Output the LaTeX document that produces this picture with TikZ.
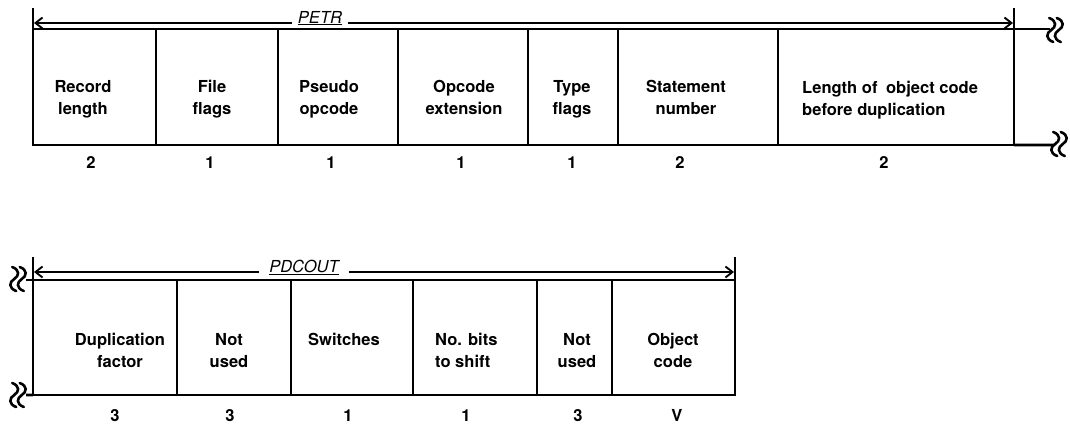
\documentclass[tikz,border=0pt]{standalone}
\usepackage{fontspec}
\setmainfont{TeX Gyre Heros}
\usetikzlibrary{arrows.meta}
\begin{document}
\begin{tikzpicture}[x=1bp,y=-1bp,
  field/.style={draw, line width=2.8bp, inner sep=0pt, outer sep=0pt, anchor=north west},
  toprow/.style={field, minimum height=116bp},
  botrow/.style={field, minimum height=115bp},
  boxline/.style={line width=2.8bp},
  ticks/.style={line width=1.9bp},
  aline/.style={line width=1.9bp},
  tipL/.style={{Straight Barb[length=7bp,width=11bp]}-},
  tipR/.style={-{Straight Barb[length=7bp,width=11bp]}},
  ftext/.style={font=\fontsize{16.6}{22}\selectfont\bfseries, align=center, anchor=base, inner sep=0pt},
  ltext/.style={ftext, align=left, anchor=base west},
  num/.style={font=\fontsize{16.6}{20}\selectfont\bfseries, anchor=base, inner sep=0pt},
  rname/.style={font=\fontsize{16.6}{20}\selectfont\itshape, anchor=base, fill=white, inner xsep=6bp, inner ysep=1bp},
  brk/.pic={
    \foreach \d in {-3.8,3.8}{
      \draw[line width=2.6bp, line cap=round] (\d-2,-12) .. controls (\d+6,-9) and (\d+5,-3) .. (\d,0) .. controls (\d-5,3) and (\d-6,9) .. (\d+2,12);
    }
  }
]
\useasboundingbox (0,0) rectangle (1070,423);

% ---------------- top record: PETR ----------------
\node[toprow, minimum width=123bp] (p1) at (33,29) {};
\node[toprow, minimum width=122bp] (p2) at (156,29) {};
\node[toprow, minimum width=120bp] (p3) at (278,29) {};
\node[toprow, minimum width=130bp] (p4) at (398,29) {};
\node[toprow, minimum width=90bp]  (p5) at (528,29) {};
\node[toprow, minimum width=160bp] (p6) at (618,29) {};
\node[toprow, minimum width=236bp] (p7) at (778,29) {};

\coordinate (pe1) at (1050,29);
\coordinate (pe2) at (1054,145);
\draw[boxline] (p7.north east) -- (pe1);
\draw[boxline] (p7.south east) -- (pe2);
\pic at (1055,30) {brk};
\pic at (1059,144) {brk};

\coordinate (ptl) at (33,8);
\coordinate (ptr) at (1014,8);
\draw[ticks] (ptl) -- (p1.north west);
\draw[ticks] (ptr) -- (p7.north east);
\coordinate (pal) at (34,23);
\coordinate (par) at (1013,23);
\node[rname] (petr) at (320,23) {\underline{PETR}};
\draw[aline, tipL] (pal) -- (pal -| petr.west);
\draw[aline, tipR] (par -| petr.east) -- (par);

\node[ftext] (t1) at (83,114) {Record\\length};
\node[ftext] (t2) at (212,114) {File\\flags};
\node[ftext] (t3) at (329,114) {Pseudo\\opcode};
\node[ftext] (t4) at (464,114) {Opcode\\extension};
\node[ftext] (t5) at (572,114) {Type\\flags};
\node[ftext] (t6) at (686,114) {Statement\\number};
\node[ltext] (t7) at (802,115) {Length of\hspace{4bp} object code\\before duplication};

\node[num] (n1) at (91,168) {2};
\node[num] (n2) at (210,168) {1};
\node[num] (n3) at (331,168) {1};
\node[num] (n4) at (461,168) {1};
\node[num] (n5) at (572,168) {1};
\node[num] (n6) at (680,168) {2};
\node[num] (n7) at (884,168) {2};

% ---------------- bottom record: PDCOUT ----------------
\node[botrow, minimum width=144bp] (q1) at (33,280) {};
\node[botrow, minimum width=114bp] (q2) at (177,280) {};
\node[botrow, minimum width=122bp] (q3) at (291,280) {};
\node[botrow, minimum width=124bp] (q4) at (413,280) {};
\node[botrow, minimum width=75bp]  (q5) at (537,280) {};
\node[botrow, minimum width=123bp] (q6) at (612,280) {};

\coordinate (qe1) at (26,280);
\coordinate (qe2) at (26,395);
\draw[boxline] (qe1) -- (q1.north west);
\draw[boxline] (qe2) -- (q1.south west);
\pic at (18,279) {brk};
\pic at (18,395) {brk};

\coordinate (qtl) at (33,257);
\coordinate (qtr) at (735,257);
\draw[ticks] (qtl) -- (q1.north west);
\draw[ticks] (qtr) -- (q6.north east);
\coordinate (qal) at (34,272);
\coordinate (qar) at (734,272);
\node[rname, inner xsep=10bp] (pdcout) at (304,272) {\underline{PDCOUT}};
\draw[aline, tipL] (qal) -- (qal -| pdcout.west);
\draw[aline, tipR] (qar -| pdcout.east) -- (qar);

\node[ftext] (u1) at (120,367) {Duplication\\factor};
\node[ftext] (u2) at (229,367) {Not\\used};
\node[ftext] (u3) at (344,345) {Switches};
\node[ltext] (u4) at (435,367) {No. bits\\to shift};
\node[ftext] (u5) at (577,367) {Not\\used};
\node[ftext] (u6) at (673,367) {Object\\code};

\node[num] (m1) at (115,421) {3};
\node[num] (m2) at (230,421) {3};
\node[num] (m3) at (348,421) {1};
\node[num] (m4) at (466,421) {1};
\node[num] (m5) at (578,421) {3};
\node[num] (m6) at (677,421) {V};
\end{tikzpicture}
\end{document}
